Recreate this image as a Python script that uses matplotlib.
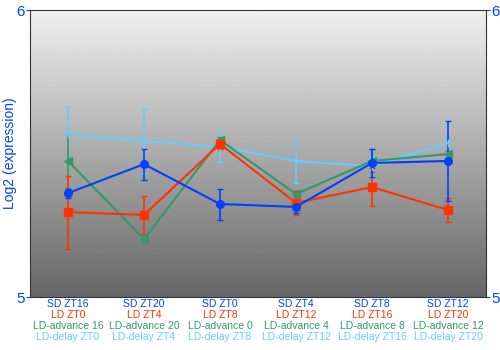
import numpy as np
import matplotlib
matplotlib.use("Agg")
import matplotlib.pyplot as plt

plt.rcParams['font.family'] = ['Liberation Sans', 'DejaVu Sans']

sd_labels = ["SD ZT16", "SD ZT20", "SD ZT0", "SD ZT4", "SD ZT8", "SD ZT12"]
ld_labels = ["LD ZT0", "LD ZT4", "LD ZT8", "LD ZT12", "LD ZT16", "LD ZT20"]
adv_labels = ["LD-advance 16", "LD-advance 20", "LD-advance 0", "LD-advance 4", "LD-advance 8", "LD-advance 12"]
del_labels = ["LD-delay ZT0", "LD-delay ZT4", "LD-delay ZT8", "LD-delay ZT12", "LD-delay ZT16", "LD-delay ZT20"]

sd = [5.362, 5.463, 5.324, 5.314, 5.467, 5.474]
sd_err = [0.016, 0.054, 0.054, 0.02, 0.05, 0.138]
ld = [5.296, 5.286, 5.533, 5.328, 5.383, 5.303]
ld_err = [0.127, 0.066, 0.016, 0.042, 0.066, 0.042]
adv = [5.474, 5.202, 5.547, 5.359, 5.474, 5.498]
adv_err = [0.094, 0.01, 0.01, 0.01, 0.04, 0.01]
dly = [5.568, 5.544, 5.523, 5.474, 5.456, 5.537]
dly_err = [0.094, 0.112, 0.052, 0.078, 0.035, 0.03]

c_sd = "#0040ff"
c_ld = "#ff3300"
c_adv = "#339966"
c_dly = "#66ccff"

fig = plt.figure(figsize=(5, 3.5), dpi=100)
ax = fig.add_axes([0.06, 0.1514, 0.912, 0.82])

x = np.arange(len(sd))
ax.set_xlim(-0.5, 5.5)
ax.set_ylim(5, 6)

# grey gradient background, light on top
grad = np.linspace(0.94, 0.40, 256).reshape(-1, 1)
ax.imshow(grad, extent=[-0.5, 5.5, 5, 6], origin='upper', aspect='auto',
          cmap='gray', vmin=0, vmax=1, zorder=0)

for vals, errs, col, mk, ms in [(dly, dly_err, c_dly, '+', 6),
                                (adv, adv_err, c_adv, '<', 6),
                                (ld, ld_err, c_ld, 's', 6),
                                (sd, sd_err, c_sd, 'o', 5.5)]:
    ax.errorbar(x, vals, yerr=errs, color=col, marker=mk, markersize=ms,
                linewidth=1.5, elinewidth=1.2, capsize=2, capthick=1, zorder=3)

ax.set_xticks(x)
ax.set_xticklabels([])
ax.tick_params(axis='x', length=0)
ax.set_yticks([5, 6])
ax.set_yticklabels(["5", "6"])
ax.tick_params(axis='y', colors=c_sd, labelsize=11, length=3, pad=1,
               labelright=True, right=True)
fig.text(0.021, 0.5614, "Log2 (expression)", color=c_sd, fontsize=10,
         rotation=90, ha='center', va='center')

for i in range(len(x)):
    for j, (labs, col) in enumerate([(sd_labels, c_sd), (ld_labels, c_ld),
                                     (adv_labels, c_adv), (del_labels, c_dly)]):
        ax.text(x[i], -0.008 - j * 0.0385, labs[i], color=col, fontsize=7.5,
                ha='center', va='top', transform=ax.get_xaxis_transform())

for s in ax.spines.values():
    s.set_color('#333333')

fig.savefig("out.png", dpi=100)
